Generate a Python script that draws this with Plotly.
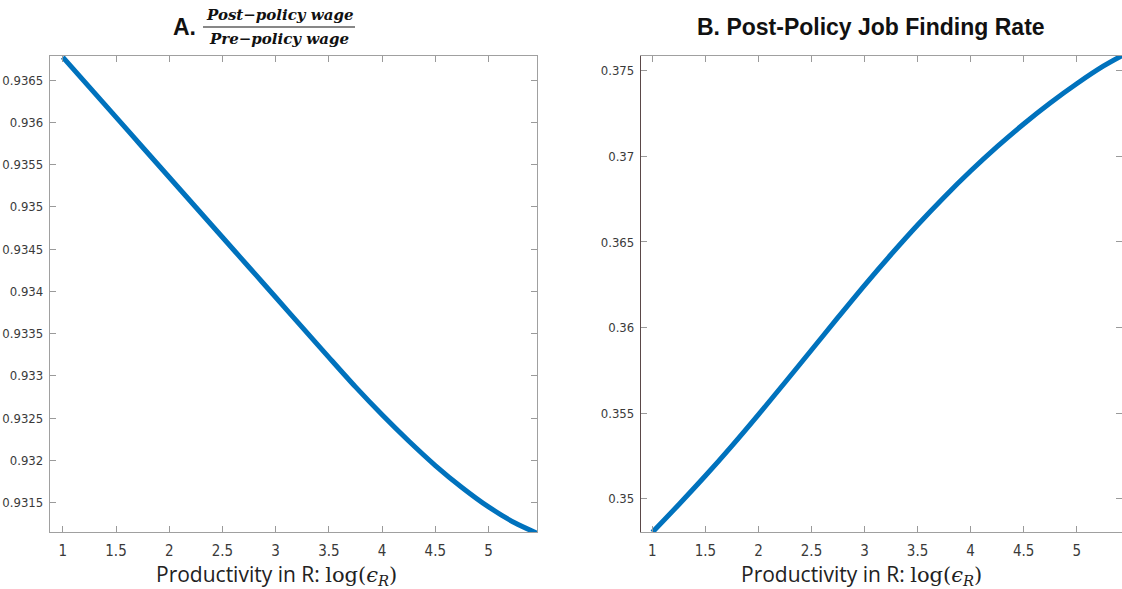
import plotly.graph_objects as go

# ---- data ----
x_wage = [1.0, 1.25, 1.5, 1.75, 2.0, 2.25, 2.5, 2.75, 3.0, 3.25, 3.5, 3.75,
          4.0, 4.25, 4.5, 4.75, 5.0, 5.25, 5.455]
wage_ratio = [0.93677, 0.936415, 0.93606, 0.935705, 0.93535, 0.934995, 0.93464,
              0.934285, 0.93393, 0.933575, 0.93322, 0.93287, 0.93254, 0.93223,
              0.93194, 0.93168, 0.93145, 0.93126, 0.93114]

x_jfr = [1.0, 1.25, 1.5, 1.75, 2.0, 2.25, 2.5, 2.75, 3.0, 3.25, 3.5, 3.75,
         4.0, 4.25, 4.5, 4.75, 5.0, 5.25, 5.427]
job_finding = [0.34804, 0.349665, 0.35134, 0.35309, 0.354915, 0.35679, 0.35869,
               0.36059, 0.362465, 0.364265, 0.36599, 0.367615, 0.36914,
               0.370565, 0.37189, 0.373115, 0.37424, 0.375265, 0.37588]

x_ticks = [1, 1.5, 2, 2.5, 3, 3.5, 4, 4.5, 5]
x_tick_text = ["1", "1.5", "2", "2.5", "3", "3.5", "4", "4.5", "5"]
wage_ticks = [0.9315, 0.932, 0.9325, 0.933, 0.9335, 0.934, 0.9345, 0.935,
              0.9355, 0.936, 0.9365]
wage_tick_text = ["0.9315", "0.932", "0.9325", "0.933", "0.9335", "0.934",
                  "0.9345", "0.935", "0.9355", "0.936", "0.9365"]
jfr_ticks = [0.35, 0.355, 0.36, 0.365, 0.37, 0.375]
jfr_tick_text = ["0.35", "0.355", "0.36", "0.365", "0.37", "0.375"]

W, H = 1122, 589
BLUE = "#0072BD"
NARROW = "Liberation Sans Narrow, DejaVu Sans Condensed, Arial Narrow, sans-serif"
YTICKFONT = dict(family=NARROW, size=13, color="#3a3a3a")
XTICKFONT = dict(family=NARROW, size=15, color="#3a3a3a")

fig = go.Figure()
fig.add_trace(go.Scatter(x=x_wage, y=wage_ratio, mode="lines",
                         line=dict(color=BLUE, width=5, shape="spline", smoothing=0.8),
                         xaxis="x", yaxis="y", showlegend=False))
fig.add_trace(go.Scatter(x=x_jfr, y=job_finding, mode="lines",
                         line=dict(color=BLUE, width=5, shape="spline", smoothing=0.8),
                         xaxis="x2", yaxis="y2", showlegend=False))

ydom = [1 - 532.3 / H, 1 - 55.5 / H]
common_x = dict(tickmode="array", tickvals=x_ticks, ticktext=x_tick_text,
                ticks="inside", ticklen=6, tickcolor="#9a9a9a",
                showline=True, linecolor="#a0a0a0", linewidth=1.3, mirror="ticks",
                showgrid=False, zeroline=False, tickfont=XTICKFONT, ticklabelstandoff=5)
common_y = dict(ticks="inside", ticklen=6, tickcolor="#9a9a9a",
                showline=True, linewidth=1.3, mirror="ticks",
                showgrid=False, zeroline=False, tickfont=YTICKFONT, ticklabelstandoff=3)

fig.update_layout(
    width=W, height=H,
    margin=dict(l=0, r=0, t=0, b=0),
    paper_bgcolor="white", plot_bgcolor="white",
    xaxis=dict(domain=[50 / W, 537 / W], range=[0.88, 5.455], anchor="y", **common_x),
    yaxis=dict(domain=ydom, range=[0.93115, 0.93679], anchor="x",
               tickmode="array", tickvals=wage_ticks, ticktext=wage_tick_text,
               linecolor="#a0a0a0", **common_y),
    xaxis2=dict(domain=[641 / W, 1.0], range=[0.893, 5.427], anchor="y2", **common_x),
    yaxis2=dict(domain=ydom, range=[0.34804, 0.37589], anchor="x2",
                tickmode="array", tickvals=jfr_ticks, ticktext=jfr_tick_text,
                linecolor="#5a4848", **common_y),
)

# x-axis titles
xlabel = ("Productivity in R: <span style='font-family:DejaVu Serif, serif'>log(<i>ϵ</i>"
          "<sub><i>R</i></sub>)</span>")
for xc in [276 / W, 861 / W]:
    fig.add_annotation(x=xc, y=1 - 574 / H, xref="paper", yref="paper",
                       xanchor="center", yanchor="middle",
                       text=xlabel, showarrow=False,
                       font=dict(family="Open Sans, Lato, sans-serif", size=21, color="#222"))

# Title A with fraction
fig.add_annotation(x=184 / W, y=1 - 27 / H, xref="paper", yref="paper",
                   xanchor="center", yanchor="middle",
                   text="<b>A.</b>", showarrow=False,
                   font=dict(family="Liberation Sans, Arial, sans-serif", size=23, color="#111"))
frac_font = dict(family="DejaVu Serif, Liberation Serif, serif", size=15, color="#111")
fig.add_annotation(x=279 / W, y=1 - 15 / H, xref="paper", yref="paper",
                   xanchor="center", yanchor="middle",
                   text="<b><i>Post−policy wage</i></b>", showarrow=False, font=frac_font)
fig.add_annotation(x=279 / W, y=1 - 39 / H, xref="paper", yref="paper",
                   xanchor="center", yanchor="middle",
                   text="<b><i>Pre−policy wage</i></b>", showarrow=False, font=frac_font)
fig.add_shape(type="line", xref="paper", yref="paper",
              x0=203 / W, x1=355 / W, y0=1 - 27 / H, y1=1 - 27 / H,
              line=dict(color="#111", width=1.2))

# Title B
fig.add_annotation(x=871 / W, y=1 - 27 / H, xref="paper", yref="paper",
                   xanchor="center", yanchor="middle",
                   text="<b>B. Post-Policy Job Finding Rate</b>", showarrow=False,
                   font=dict(family="Liberation Sans, Arial, sans-serif", size=23, color="#111"))

fig.write_html("out.html", config={"displayModeBar": False},
               post_script="document.body.style.margin='0';")
